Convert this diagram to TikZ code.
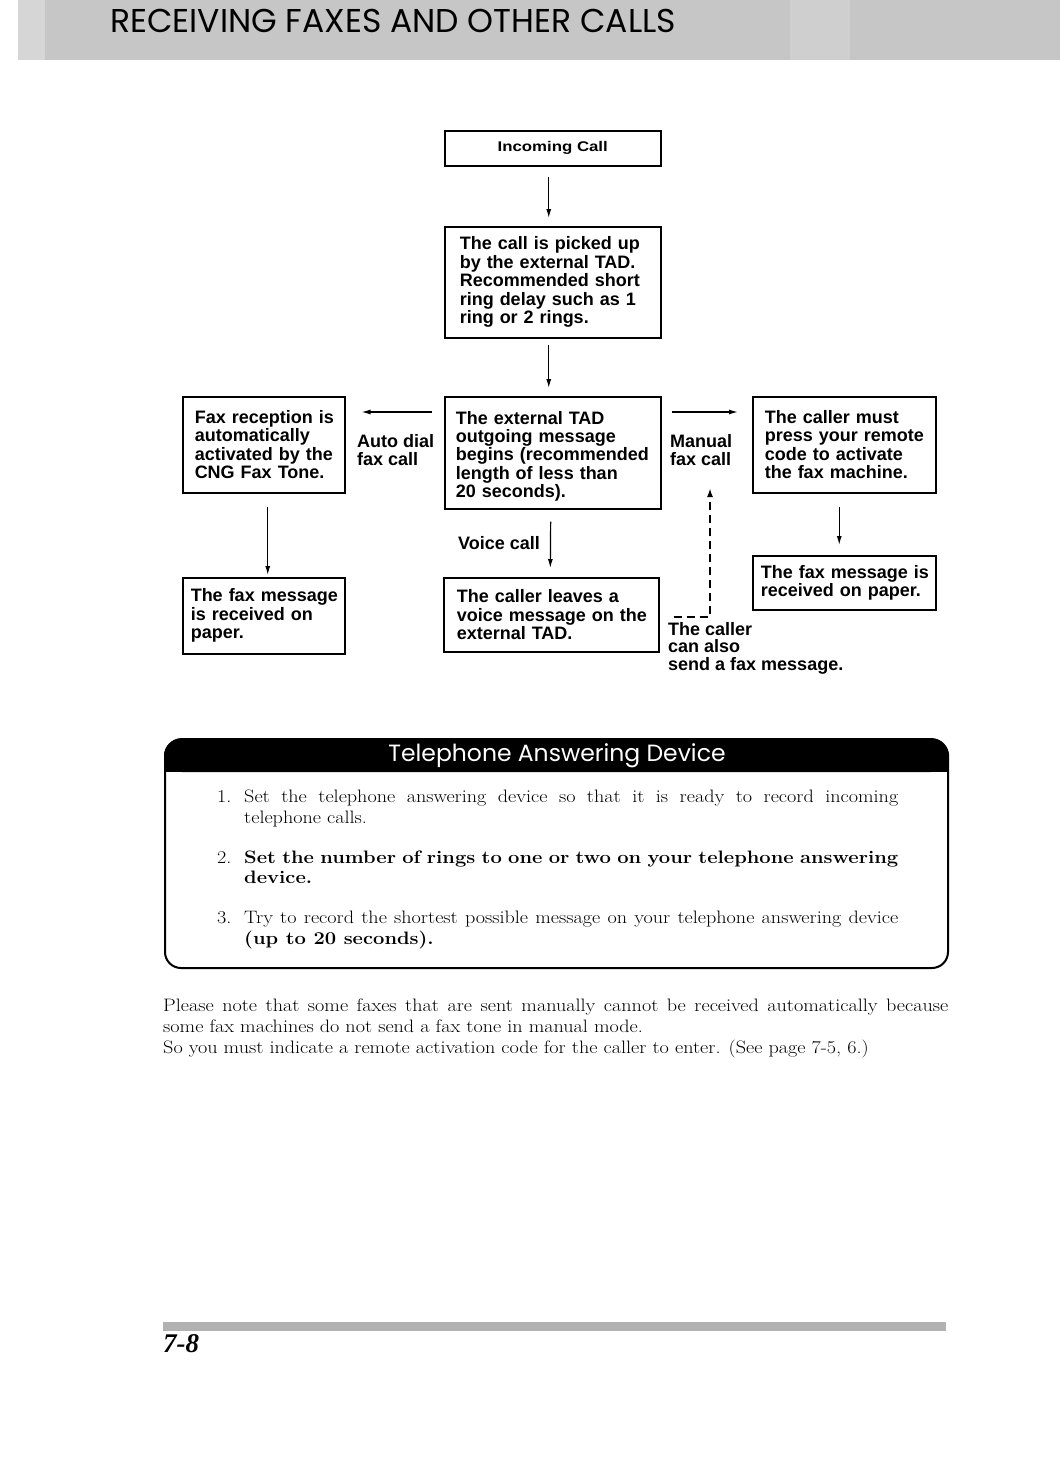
\documentclass[tikz,border=0pt]{standalone}
\usepackage{fontspec}
\usepackage{graphicx}
\newfontfamily\hv{Liberation Sans}
\newfontfamily\gothic{Poppins}
\newfontfamily\tms{Liberation Serif}
\usetikzlibrary{arrows.meta,calc}
\newcommand\Ln[1]{\mbox{#1}}
\newcommand\Wide[2]{\scalebox{1.12}[1]{\parbox[t]{#1}{#2}}}
\begin{document}
\begin{tikzpicture}[x=1pt,y=-1pt,
  box/.style={draw, line width=1.5pt, anchor=north west, inner ysep=0pt, align=left,
    font=\hv\bfseries\fontsize{18}{18.5}\selectfont},
  arr/.style={line width=1.2pt, -{Latex[length=9pt,width=5pt]}},
  darr/.style={line width=2pt, dash pattern=on 8pt off 5pt, -{Latex[length=9pt,width=6pt]}},
  lbl/.style={anchor=north west, inner sep=0pt, align=left,
    font=\hv\bfseries\fontsize{18}{18}\selectfont},
  ser/.style={anchor=north west, inner sep=0pt, font=\fontsize{18}{21}\selectfont}]
\useasboundingbox (0,0) rectangle (1060,1465);
% header band
\fill[gray!45] (18,0) rectangle (1060,60);
\fill[gray!32] (18,0) rectangle (45,60);
\fill[gray!38] (790,0) rectangle (850,60);
\node[anchor=base west, inner sep=0pt, font=\gothic\fontsize{33}{33}\selectfont] (title) at (110,32)
  {RECEIVING FAXES AND OTHER CALLS};
% flow boxes
\node[box, minimum width=216pt, minimum height=35pt, inner xsep=0pt, align=center,
  font=\hv\bfseries\fontsize{14}{14}\selectfont] (in) at (444,130) {\scalebox{1.2}[1]{Incoming Call}};
\node[box, minimum width=216pt, minimum height=111pt, inner xsep=15pt, text width=186pt] (b2) at (444,226)
  {\Ln{The call is picked up}\\\Ln{by the external TAD.}\\\Ln{Recommended short}\\\Ln{ring delay such as 1}\\\Ln{ring or 2 rings.}};
\node[box, minimum width=216pt, minimum height=112pt, inner xsep=11pt, text width=194pt,
  font=\hv\bfseries\fontsize{18}{18.2}\selectfont] (b3) at (444,396)
  {\Ln{\rule{0pt}{20pt}The external TAD}\\\Ln{outgoing message}\\\Ln{begins (recommended}\\\Ln{length of less than}\\\Ln{20 seconds).}};
\node[box, minimum width=162pt, minimum height=96pt, inner xsep=12pt, text width=138pt] (fr) at (182,396)
  {\Ln{Fax reception is}\\\Ln{automatically}\\\Ln{activated by the}\\\Ln{CNG Fax Tone.}};
\node[box, minimum width=183pt, minimum height=96pt, inner xsep=12pt, text width=159pt] (rt) at (752,396)
  {\Ln{The caller must}\\\Ln{press your remote}\\\Ln{code to activate}\\\Ln{the fax machine.}};
\node[box, minimum width=162pt, minimum height=76pt, inner xsep=8pt, text width=146pt] (fm) at (182,577)
  {\Ln{The fax message}\\\Ln{is received on}\\\Ln{paper.}};
\node[box, minimum width=215pt, minimum height=74pt, inner xsep=13pt, text width=189pt] (vc) at (443,577)
  {\Ln{The caller leaves a}\\\Ln{voice message on the}\\\Ln{external TAD.}};
\node[box, minimum width=183pt, minimum height=54pt, inner xsep=8pt, text width=167pt] (rb) at (752,555)
  {\Ln{The fax message is}\\\Ln{received on paper.}};
% connectors
\draw[arr, shorten <=10pt, shorten >=8pt] ([xshift=-4pt]in.south) -- ([xshift=-4pt]b2.north);
\draw[arr, shorten <=6pt, shorten >=8pt] ([xshift=-4pt]b2.south) -- ([xshift=-4pt]b3.north);
\draw[arr, shorten <=12pt, shorten >=16pt] ($(b3.north west)+(0,16)$) -- ($(fr.north east)+(0,16)$);
\draw[arr, shorten <=10pt, shorten >=14pt] ($(b3.north east)+(0,16)$) -- ($(rt.north west)+(0,16)$);
\draw[arr, shorten <=13pt, shorten >=2pt] ([xshift=4pt]fr.south) -- ([xshift=4pt]fm.north);
\draw[arr, shorten <=12pt, shorten >=9pt] ([xshift=-2pt]b3.south) -- ([xshift=-1pt]vc.north);
\draw[arr, shorten <=13pt, shorten >=10pt] ([xshift=-5pt]rt.south) -- ([xshift=-5pt]rb.north);
\coordinate (dtip) at (710,488);
\draw[darr] ([xshift=14pt,yshift=-2pt]vc.east) -| (dtip);
% labels
\node[lbl] (ad) at (357,434) {Auto dial\\fax call};
\node[lbl] (mf) at (670,434) {Manual\\fax call};
\node[lbl, anchor=base east] (vl) at (540,549) {Voice call};
\node[lbl, font=\hv\bfseries\fontsize{18}{17.5}\selectfont] (cf) at (668,622) {The caller\\can also\\send a fax message.};
% TAD panel
\draw[line width=2pt, rounded corners=16pt] (165,740) rectangle (948,968);
\fill[rounded corners=18pt] (164,738) rectangle (949,772);
\fill (164,760) rectangle (949,772);
\node[text=white, inner sep=0pt, font=\gothic\fontsize{23.5}{23.5}\selectfont] (tadt) at (557,756)
  {Telephone Answering Device};
\node[ser] (n1) at (217,790) {\scalebox{1.12}[1]{1.}};
\node[ser] (i1) at (244,790)
  {\Wide{584pt}{Set the telephone answering device so that it is ready to record incoming\linebreak telephone calls.}};
\node[ser] (n2) at (217,851) {\scalebox{1.12}[1]{2.}};
\node[ser, font=\bfseries\fontsize{18}{20}\selectfont] (i2) at (244,851)
  {\Wide{584pt}{Set the number of rings to one or two on your telephone answering\linebreak device.}};
\node[ser] (n3) at (217,911) {\scalebox{1.12}[1]{3.}};
\node[ser] (i3) at (244,911)
  {\Wide{584pt}{Try to record the shortest possible message on your telephone answering device\linebreak
   {\bfseries (up to 20 seconds).}}};
% note paragraph
\node[ser] (note) at (163,999)
  {\Wide{701pt}{Please note that some faxes that are sent manually cannot be received automatically because\linebreak
   some fax machines do not send a fax tone in manual mode.\newline
   So you must indicate a remote activation code for the caller to enter. (See page 7-5, 6.)}};
% footer
\fill[gray!60] (163,1322) rectangle (946,1331);
\node[anchor=base west, inner sep=0pt, font=\tms\bfseries\itshape\fontsize{27}{27}\selectfont] (pg) at (163,1352) {7-8};
\end{tikzpicture}
\end{document}
